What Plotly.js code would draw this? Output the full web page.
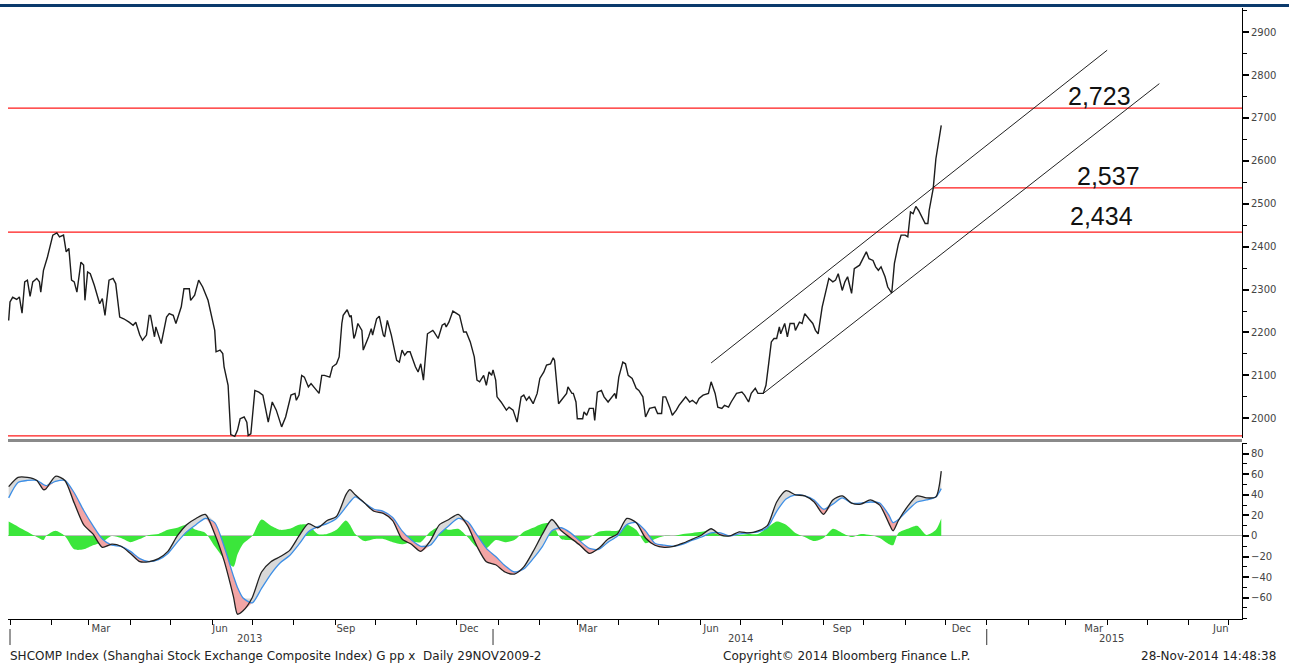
<!DOCTYPE html>
<html>
<head>
<meta charset="utf-8">
<script src="https://cdn.plot.ly/plotly-3.0.1.min.js"></script>
<style>html,body{margin:0;padding:0;background:#fff;}#chart{width:1289px;height:669px;}</style>
</head>
<body>
<div id="chart"></div>
<script>
// ---------------- DATA ----------------
const priceDates = [
'2012-12-31','2013-01-01','2013-01-03','2013-01-06','2013-01-08','2013-01-10','2013-01-12','2013-01-14','2013-01-16','2013-01-18',
'2013-01-21','2013-01-23','2013-01-24','2013-01-26','2013-01-29','2013-01-30','2013-02-02','2013-02-05','2013-02-07','2013-02-10',
'2013-02-12','2013-02-14','2013-02-16','2013-02-18','2013-02-20','2013-02-23','2013-02-25','2013-02-26','2013-02-28','2013-03-02',
'2013-03-05','2013-03-09','2013-03-11','2013-03-13','2013-03-16','2013-03-19','2013-03-21','2013-03-24','2013-03-27','2013-03-31',
'2013-04-03','2013-04-05','2013-04-08','2013-04-10','2013-04-13','2013-04-15','2013-04-16','2013-04-19','2013-04-20','2013-04-24',
'2013-04-28','2013-04-30','2013-05-03','2013-05-05','2013-05-09','2013-05-11','2013-05-15','2013-05-16','2013-05-19','2013-05-22',
'2013-05-25','2013-05-29','2013-05-31','2013-06-03','2013-06-04','2013-06-07','2013-06-09','2013-06-10','2013-06-13','2013-06-14',
'2013-06-15','2013-06-18','2013-06-20','2013-06-22','2013-06-25','2013-06-27','2013-06-28','2013-06-30','2013-07-03','2013-07-06',
'2013-07-09','2013-07-13','2013-07-16','2013-07-19','2013-07-23','2013-07-26','2013-07-30','2013-08-02','2013-08-03','2013-08-05',
'2013-08-07','2013-08-09','2013-08-12','2013-08-14','2013-08-17','2013-08-20','2013-08-22','2013-08-24','2013-08-28','2013-08-30',
'2013-09-02','2013-09-04','2013-09-06','2013-09-07','2013-09-10','2013-09-12','2013-09-13','2013-09-15','2013-09-16','2013-09-18',
'2013-09-21','2013-09-22','2013-09-26','2013-09-28','2013-09-29','2013-10-02','2013-10-04','2013-10-05','2013-10-07','2013-10-08',
'2013-10-10','2013-10-13','2013-10-17','2013-10-19','2013-10-21','2013-10-23','2013-10-25','2013-10-27','2013-10-31','2013-11-02',
'2013-11-04','2013-11-06','2013-11-09','2013-11-13','2013-11-14','2013-11-17','2013-11-20','2013-11-22','2013-11-23','2013-11-25',
'2013-11-28','2013-12-01','2013-12-03','2013-12-06','2013-12-08','2013-12-11','2013-12-13','2013-12-14','2013-12-16','2013-12-18',
'2013-12-21','2013-12-23','2013-12-25','2013-12-27','2013-12-28','2013-12-30','2013-12-31','2014-01-03','2014-01-07','2014-01-09',
'2014-01-12','2014-01-15','2014-01-18','2014-01-20','2014-01-22','2014-01-24','2014-01-27','2014-01-30','2014-02-01','2014-02-04',
'2014-02-06','2014-02-09','2014-02-11','2014-02-12','2014-02-15','2014-02-18','2014-02-21','2014-02-22','2014-02-25','2014-02-26',
'2014-02-28','2014-03-01','2014-03-05','2014-03-06','2014-03-08','2014-03-10','2014-03-13','2014-03-14','2014-03-16','2014-03-19',
'2014-03-21','2014-03-24','2014-03-26','2014-03-29','2014-03-30','2014-04-01','2014-04-04','2014-04-06','2014-04-08','2014-04-11',
'2014-04-14','2014-04-16','2014-04-19','2014-04-21','2014-04-24','2014-04-28','2014-04-30','2014-05-03','2014-05-04','2014-05-06',
'2014-05-09','2014-05-11','2014-05-14','2014-05-16','2014-05-19','2014-05-21','2014-05-24','2014-05-26','2014-05-29','2014-05-31',
'2014-06-03','2014-06-07','2014-06-09','2014-06-12','2014-06-14','2014-06-17','2014-06-19','2014-06-22','2014-06-24','2014-06-28',
'2014-07-02','2014-07-04','2014-07-07','2014-07-09','2014-07-12','2014-07-14','2014-07-18','2014-07-20','2014-07-22','2014-07-24',
'2014-07-26','2014-07-28','2014-07-30','2014-07-31','2014-08-03','2014-08-05','2014-08-07','2014-08-10','2014-08-11','2014-08-14',
'2014-08-16','2014-08-18','2014-08-21','2014-08-24','2014-08-26','2014-08-28','2014-08-31','2014-09-03','2014-09-05','2014-09-08',
'2014-09-10','2014-09-12','2014-09-15','2014-09-17','2014-09-19','2014-09-22','2014-09-24','2014-09-28','2014-09-30','2014-10-03',
'2014-10-05','2014-10-08','2014-10-10','2014-10-12','2014-10-14','2014-10-17','2014-10-19','2014-10-22','2014-10-24','2014-10-27',
'2014-10-29','2014-11-01','2014-11-03','2014-11-05','2014-11-07','2014-11-09','2014-11-11','2014-11-13','2014-11-16','2014-11-18',
'2014-11-19','2014-11-22','2014-11-24','2014-11-28'
];
const priceValues = [
2228,2271,2282,2277,2283,2245,2318,2322,2284,2318,
2326,2318,2294,2345,2376,2388,2427,2432,2423,2427,
2388,2396,2322,2318,2294,2364,2357,2275,2341,2337,
2310,2267,2279,2240,2322,2326,2314,2236,2232,2224,
2217,2224,2194,2182,2194,2240,2240,2190,2213,2174,
2236,2244,2240,2221,2260,2302,2302,2275,2287,2322,
2306,2275,2244,2205,2155,2159,2151,2120,2077,2026,
1962,1958,1972,1999,2003,1991,1960,1964,2065,2061,
2054,1991,2038,2019,1980,2003,2054,2058,2042,2054,
2100,2096,2073,2081,2070,2058,2100,2100,2096,2120,
2127,2143,2221,2240,2253,2236,2240,2186,2194,2221,
2205,2159,2190,2209,2194,2232,2238,2221,2194,2190,
2228,2194,2135,2131,2159,2147,2155,2155,2120,2108,
2127,2089,2197,2205,2201,2186,2217,2221,2213,2224,
2250,2244,2240,2201,2201,2178,2151,2143,2089,2085,
2100,2077,2108,2100,2113,2089,2050,2038,2019,2026,
2019,1991,2050,2054,2042,2050,2034,2058,2093,2108,
2124,2127,2141,2135,2034,2046,2058,2073,2058,2058,
2038,1999,1999,2015,2007,2023,2023,1995,2061,2065,
2050,2038,2046,2058,2046,2096,2131,2127,2100,2093,
2070,2065,2050,2003,2023,2026,2011,2011,2050,2050,
2026,2007,2019,2030,2042,2050,2038,2042,2034,2046,
2054,2058,2085,2058,2026,2023,2030,2026,2038,2058,
2061,2054,2038,2058,2070,2058,2058,2077,2127,2178,
2186,2186,2213,2197,2221,2190,2221,2221,2205,2224,
2221,2244,2232,2221,2205,2197,2259,2298,2326,2318,
2322,2337,2298,2318,2330,2291,2349,2357,2368,2388,
2372,2368,2353,2345,2353,2330,2306,2292,2361,2407,
2427,2427,2423,2481,2477,2494,2485,2473,2454,2454,
2485,2536,2605,2683
];

// Lower panel indicator (fast line, slow line, histogram)
const indDates = [
'2012-12-31','2013-01-07','2013-01-14','2013-01-21','2013-01-26','2013-01-28','2013-02-04','2013-02-11','2013-02-18','2013-02-25',
'2013-03-04','2013-03-11','2013-03-18','2013-03-25','2013-04-01','2013-04-08','2013-04-15','2013-04-22','2013-04-29','2013-05-06',
'2013-05-13','2013-05-20','2013-05-27','2013-06-03','2013-06-10','2013-06-17','2013-06-20','2013-06-24','2013-07-01','2013-07-08',
'2013-07-15','2013-07-22','2013-07-29','2013-08-05','2013-08-12','2013-08-19','2013-08-26','2013-09-02','2013-09-09','2013-09-12',
'2013-09-16','2013-09-23','2013-09-30','2013-10-07','2013-10-14','2013-10-21','2013-10-28','2013-11-04','2013-11-11','2013-11-18',
'2013-11-25','2013-12-02','2013-12-09','2013-12-16','2013-12-23','2013-12-30','2014-01-06','2014-01-13','2014-01-20','2014-01-27',
'2014-02-03','2014-02-10','2014-02-17','2014-02-24','2014-03-03','2014-03-10','2014-03-17','2014-03-24','2014-03-31','2014-04-07',
'2014-04-14','2014-04-21','2014-04-28','2014-05-05','2014-05-12','2014-05-19','2014-05-26','2014-06-02','2014-06-09','2014-06-16',
'2014-06-23','2014-06-30','2014-07-07','2014-07-14','2014-07-21','2014-07-28','2014-08-04','2014-08-11','2014-08-18','2014-08-25',
'2014-09-01','2014-09-08','2014-09-15','2014-09-22','2014-09-29','2014-10-06','2014-10-13','2014-10-20','2014-10-23','2014-10-27',
'2014-11-03','2014-11-10','2014-11-17','2014-11-24','2014-11-28'
];
const indFast = [
48,57,57,54,45,46,58,54,32,11,
2,-11,-8,-10,-17,-25,-25,-22,-15,0,
11,17,21,2,-24,-59,-76,-73,-60,-35,
-25,-20,-14,0,12,8,15,19,40,45,
40,32,24,22,15,-3,-8,-15,-5,11,
16,21,10,-10,-25,-28,-35,-37,-30,-15,
2,16,5,-2,-9,-17,-12,-3,2,17,
13,-2,-9,-11,-10,-7,-3,1,7,1,
0,4,3,5,10,33,44,40,39,33,
21,35,39,32,31,35,30,12,5,15,
29,39,37,38,63
];
const indSlow = [
37,52,54,54,50,49,53,54,42,25,
10,-3,-9,-10,-15,-22,-25,-23,-17,-6,
4,11,17,13,-10,-39,-50,-60,-65,-51,
-37,-26,-19,-8,4,9,12,17,28,33,
38,32,26,24,18,5,-4,-10,-9,2,
10,17,14,1,-12,-20,-29,-35,-32,-22,
-10,5,8,3,-5,-12,-13,-6,0,11,
13,5,-7,-9,-10,-8,-4,-1,3,3,
0,2,3,4,8,24,36,40,39,35,
26,31,37,32,32,33,32,20,13,16,
25,33,35,38,46
];
const indHist = [
14,9,4,-1,-4,0,5,0,-13,-13,
-9,-6,0,-2,-6,-3,1,2,6,8,
11,6,3,-10,-22,-30,-18,-8,0,16,
10,6,7,11,11,2,2,6,15,11,
2,-5,-3,-3,-6,-8,-6,-6,4,9,
6,7,-1,-11,-12,-4,-6,-4,4,8,
12,12,-3,-4,-5,-2,4,5,5,11,
6,-7,-3,0,0,2,3,4,6,0,
0,1,2,2,8,14,11,3,-1,-5,
-2,7,3,-1,2,1,-2,-8,-9,3,
7,10,1,6,17
];

const levels = [2723, 2537, 2434, 1959];
const levelStarts = ['2012-12-30', '2014-11-22', '2012-12-30', '2012-12-30'];
const levelLabels = ['2,723', '2,537', '2,434'];

const channelUpperDates = ['2014-06-09', '2015-04-01'];
const channelUpperValues = [2129, 2858];
const channelLowerDates = ['2014-07-18', '2015-05-10'];
const channelLowerValues = [2058, 2780];

const monthLabels = ['Mar','Jun','Sep','Dec','Mar','Jun','Sep','Dec','Mar','Jun'];
const monthLabelDates = ['2013-03-10','2013-06-07','2013-09-09','2013-12-10','2014-03-09','2014-06-09','2014-09-15','2014-12-13','2015-03-22','2015-06-25'];
const yearLabels = ['2013','2014','2015'];
const yearLabelDates = ['2013-06-29','2014-07-01','2015-04-04'];
const yearBreakDates = ['2013-01-01','2013-12-28','2015-01-01'];

const footerLeft = 'SHCOMP Index (Shanghai Stock Exchange Composite Index) G pp x  Daily 29NOV2009-2';
const footerMid = 'Copyright\u00A9 2014 Bloomberg Finance L.P.';
const footerRight = '28-Nov-2014 14:48:38';

// ---------------- CHART ----------------
const xRange = ['2012-12-30 12:00', '2015-07-10 18:45'];
const lo = indFast.map((v, i) => Math.min(v, indSlow[i]));
const hi = indFast.map((v, i) => Math.max(v, indSlow[i]));
const sp = {shape: 'spline', smoothing: 0.7};
const none = 'rgba(0,0,0,0)';

const traces = [
  {x: priceDates, y: priceValues, xaxis: 'x', yaxis: 'y', type: 'scatter', mode: 'lines',
   line: {color: '#1c1c1c', width: 1.4}},
  {x: channelUpperDates, y: channelUpperValues, xaxis: 'x', yaxis: 'y', type: 'scatter', mode: 'lines',
   line: {color: '#222', width: 1}},
  {x: channelLowerDates, y: channelLowerValues, xaxis: 'x', yaxis: 'y', type: 'scatter', mode: 'lines',
   line: {color: '#222', width: 1}},
  // histogram area
  {x: indDates, y: indHist, xaxis: 'x', yaxis: 'y2', type: 'scatter', mode: 'lines',
   fill: 'tozeroy', fillcolor: '#3be63b', line: Object.assign({width: 0, color: '#3be63b'}, sp)},
  // pink fill (fast below slow)
  {x: indDates, y: indSlow, xaxis: 'x', yaxis: 'y2', type: 'scatter', mode: 'lines', line: Object.assign({width: 0, color: none}, sp)},
  {x: indDates, y: lo, xaxis: 'x', yaxis: 'y2', type: 'scatter', mode: 'lines', fill: 'tonexty',
   fillcolor: '#f3a5a5', line: Object.assign({width: 0, color: none}, sp)},
  // gray fill (fast above slow)
  {x: indDates, y: indSlow, xaxis: 'x', yaxis: 'y2', type: 'scatter', mode: 'lines', line: Object.assign({width: 0, color: none}, sp)},
  {x: indDates, y: hi, xaxis: 'x', yaxis: 'y2', type: 'scatter', mode: 'lines', fill: 'tonexty',
   fillcolor: '#d9d9d9', line: Object.assign({width: 0, color: none}, sp)},
  {x: indDates, y: indSlow, xaxis: 'x', yaxis: 'y2', type: 'scatter', mode: 'lines',
   line: Object.assign({color: '#3d8fe6', width: 1.3}, sp)},
  {x: indDates, y: indFast, xaxis: 'x', yaxis: 'y2', type: 'scatter', mode: 'lines',
   line: Object.assign({color: '#222', width: 1.3}, sp)}
];

const tickFont = {family: 'DejaVu Sans', size: 10, color: '#444'};
const footFont = {family: 'DejaVu Sans', size: 12, color: '#222'};

const shapes = [];
// top navy bar
shapes.push({type: 'rect', xref: 'paper', yref: 'paper', x0: -0.0065, x1: 1.0381, y0: 1.0016, y1: 1.0066,
  fillcolor: '#0b3a6c', line: {width: 0}});
// panel separator
shapes.push({type: 'rect', xref: 'paper', yref: 'paper', x0: 0, x1: 1, y0: 0.2897, y1: 0.2946,
  fillcolor: '#8a8a8a', line: {width: 0}});
// red levels
levels.forEach((lv, i) => {
  shapes.push({type: 'line', xref: 'x', yref: 'y', x0: levelStarts[i], x1: xRange[1], y0: lv, y1: lv,
    line: {color: '#ff1a1a', width: 1.4}, layer: 'below'});
});
// year separators
yearBreakDates.forEach(d => {
  shapes.push({type: 'line', xref: 'x', yref: 'paper', x0: d, x1: d, y0: -0.0164, y1: -0.0426,
    line: {color: '#333', width: 1}});
});

const annotations = [];
const labelX = ['2015-03-26', '2015-04-02', '2015-03-28'];
const labelShift = [12, 11.5, 16];
levelLabels.forEach((t, i) => {
  annotations.push({text: t, xref: 'x', yref: 'y', x: labelX[i], y: levels[i], xanchor: 'center', yanchor: 'middle',
    yshift: labelShift[i], showarrow: false, font: {family: 'Liberation Sans', size: 25, color: '#111'}});
});
yearLabels.forEach((t, i) => {
  annotations.push({text: t, xref: 'x', yref: 'paper', x: yearLabelDates[i], y: -0.0311, xanchor: 'center', yanchor: 'middle',
    showarrow: false, font: tickFont});
});
annotations.push({text: footerLeft, xref: 'paper', yref: 'paper', x: 0, y: -0.0606, xanchor: 'left', yanchor: 'middle',
  showarrow: false, font: footFont});
annotations.push({text: footerMid, xref: 'paper', yref: 'paper', x: 0.5778, y: -0.0606, xanchor: 'left', yanchor: 'middle',
  showarrow: false, font: footFont});
annotations.push({text: footerRight, xref: 'paper', yref: 'paper', x: 1.0292, y: -0.0606, xanchor: 'right', yanchor: 'middle',
  showarrow: false, font: footFont});

const layout = {
  width: 1289, height: 669,
  margin: {l: 8, r: 47, t: 8, b: 50, pad: 0},
  paper_bgcolor: '#fff', plot_bgcolor: '#fff',
  showlegend: false, hovermode: false,
  xaxis: {
    type: 'date', range: xRange, anchor: 'y2', showgrid: false, zeroline: false,
    showline: true, linecolor: '#000', linewidth: 1,
    tickmode: 'array', tickvals: monthLabelDates, ticktext: monthLabels, ticks: '', ticklen: 0,
    tickfont: tickFont,
    minor: {tickmode: 'linear', tick0: '2013-01-01', dtick: 'M1', ticks: 'outside', ticklen: 5, tickwidth: 1, tickcolor: '#000', showgrid: false}
  },
  yaxis: {
    domain: [0.2962, 1], range: [1954, 2956.4], side: 'right', showgrid: false, zeroline: false,
    showline: true, linecolor: '#000', linewidth: 1,
    tickmode: 'linear', tick0: 0, dtick: 100, ticks: 'outside', ticklen: 6, tickwidth: 2, tickcolor: '#000',
    tickfont: tickFont,
    minor: {tickmode: 'linear', tick0: 0, dtick: 50, ticks: 'outside', ticklen: 4, tickwidth: 1, tickcolor: '#000', showgrid: false}
  },
  yaxis2: {
    domain: [0, 0.2881], range: [-80.7, 90.4], side: 'right', showgrid: false,
    zeroline: true, zerolinecolor: '#bdbdbd', zerolinewidth: 1,
    showline: true, linecolor: '#000', linewidth: 1,
    tickmode: 'array', tickvals: [-60, -40, -20, 0, 20, 40, 60, 80], ticks: 'outside', ticklen: 6, tickwidth: 2, tickcolor: '#000',
    tickfont: tickFont,
    minor: {tickmode: 'linear', tick0: 0, dtick: 10, ticks: 'outside', ticklen: 4, tickwidth: 1, tickcolor: '#000', showgrid: false}
  },
  shapes: shapes,
  annotations: annotations
};

Plotly.newPlot('chart', traces, layout, {staticPlot: true, displayModeBar: false});
</script>
</body>
</html>
